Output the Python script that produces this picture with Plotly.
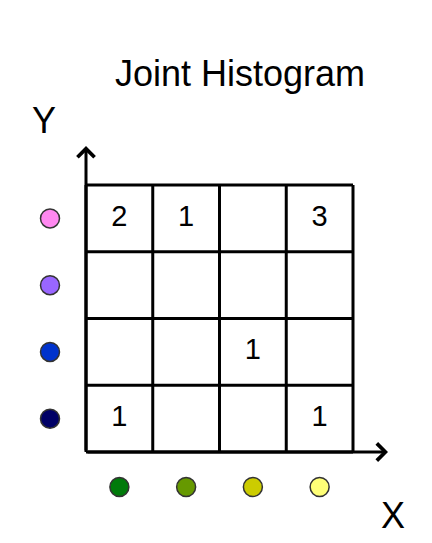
import plotly.graph_objects as go

# ---- data ----
x_bin_colors = ["#007a0a", "#669900", "#cccc00", "#ffff77"]   # X bins, left -> right
y_bin_colors = ["#000066", "#0033cc", "#9966ff", "#ff88f0"]   # Y bins, bottom -> top
counts = [                       # rows bottom -> top, columns left -> right
    [1, 0, 0, 1],
    [0, 0, 1, 0],
    [0, 0, 0, 0],
    [2, 1, 0, 3],
]
title_text = "Joint Histogram"
x_label = "X"
y_label = "Y"

# ---- layout geometry (pixel -> data mapping) ----
W, H = 432, 543
PAGE_OFF = 8          # default body margin of the html page
X0_PX, Y0_PX, CELL_PX = 86, 452, 66.75
def dx(px):
    return (px - X0_PX) / CELL_PX
def dy(py):
    return (Y0_PX - py) / CELL_PX

nx, ny = len(x_bin_colors), len(y_bin_colors)
FONT = "Liberation Sans, Arial, sans-serif"

fig = go.Figure()

# grid lines
gx, gy = [], []
for i in range(nx + 1):
    gx += [i, i, None]
    gy += [0, ny, None]
for j in range(ny + 1):
    gx += [0, nx, None]
    gy += [j, j, None]
fig.add_trace(go.Scatter(x=gx, y=gy, mode="lines",
                         line=dict(color="black", width=3),
                         hoverinfo="skip", showlegend=False))

# counts text
tx, ty, tt = [], [], []
for j, row in enumerate(counts):
    for i, v in enumerate(row):
        if v:
            tx.append(i + 0.5)
            ty.append(j + 0.5)
            tt.append(str(v))
fig.add_trace(go.Scatter(x=tx, y=ty, mode="text", text=tt,
                         textfont=dict(family=FONT, size=29, color="black"),
                         hoverinfo="skip", showlegend=False))

# bin colour dots
fig.add_trace(go.Scatter(
    x=[i + 0.5 for i in range(nx)], y=[dy(487)] * nx, mode="markers",
    marker=dict(size=19, color=x_bin_colors, line=dict(color="#333333", width=1.5)),
    hoverinfo="skip", showlegend=False))
fig.add_trace(go.Scatter(
    x=[dx(50)] * ny, y=[j + 0.5 for j in range(ny)], mode="markers",
    marker=dict(size=19, color=y_bin_colors, line=dict(color="#333333", width=1.5)),
    hoverinfo="skip", showlegend=False))

# axis arrows
arrow_common = dict(text="", showarrow=True, arrowhead=4, arrowsize=1.1,
                    arrowwidth=3, arrowcolor="black", axref="x", ayref="y",
                    xref="x", yref="y", standoff=0)
fig.add_annotation(x=0, y=dy(146), ax=0, ay=0, **arrow_common)
fig.add_annotation(x=dx(388), y=0, ax=0, ay=0, **arrow_common)

# axis labels
fig.add_annotation(x=dx(44), y=dy(120), text=y_label, showarrow=False,
                   font=dict(family=FONT, size=36, color="black"))
fig.add_annotation(x=dx(393), y=dy(515), text=x_label, showarrow=False,
                   font=dict(family=FONT, size=36, color="black"))

fig.update_layout(
    width=W, height=H, autosize=False,
    margin=dict(l=0, r=0, t=0, b=0),
    paper_bgcolor="white", plot_bgcolor="white",
    title=dict(text=title_text, x=(240 - PAGE_OFF) / W, xanchor="center",
               y=1 - (73 - PAGE_OFF) / H, yanchor="middle",
               font=dict(family=FONT, size=36, color="black")),
    xaxis=dict(range=[dx(PAGE_OFF), dx(W + PAGE_OFF)], visible=False, fixedrange=True),
    yaxis=dict(range=[dy(H + PAGE_OFF), dy(PAGE_OFF)], visible=False, fixedrange=True),
    showlegend=False,
)

fig.write_html("out.html")
